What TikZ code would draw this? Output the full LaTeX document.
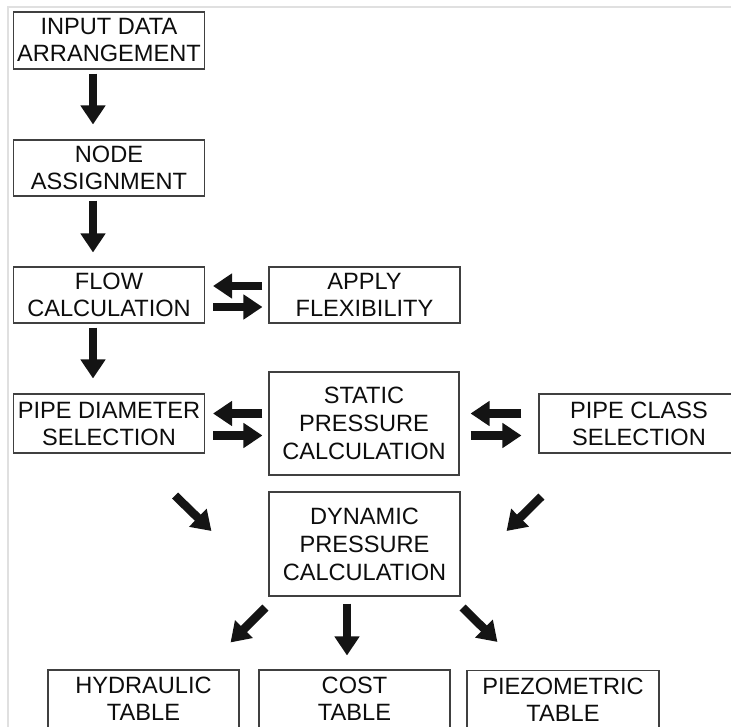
\documentclass[tikz,border=0pt]{standalone}
\usepackage{fontspec}
\setmainfont{Liberation Sans}
\usetikzlibrary{arrows.meta}
\begin{document}
\begin{tikzpicture}[x=1pt,y=-1pt,
    stage/.style={draw=black!75,line width=1.1pt,text=black!95,align=center,
        minimum width=191pt,minimum height=57pt,inner sep=0pt,
        font=\fontsize{23.6}{27}\selectfont},
    fat/.style={draw=black!92,line width=8.5pt,-{Triangle[length=19pt,width=24pt]}}]
    \useasboundingbox (0,0) rectangle (731,727);
    \draw[black!12,line width=1.5pt] (8,727) -- (8,7) -- (731,7);
    % left column
    \node[stage] (input) at (109,40.5) {INPUT DATA\\ARRANGEMENT};
    \node[stage,minimum height=56pt] (assign) at (109,168) {NODE\\ASSIGNMENT};
    \node[stage,minimum height=56pt] (flow) at (109,295) {FLOW\\CALCULATION};
    \node[stage,minimum height=59pt] (pdia) at (109,423.5) {PIPE DIAMETER\\SELECTION};
    % middle and right
    \node[stage,minimum height=56pt] (apply) at (364.5,295) {APPLY\\FLEXIBILITY};
    \node[stage,minimum width=190pt,minimum height=103pt,font=\fontsize{23.6}{28}\selectfont] (static) at (364,423.5) {STATIC\\PRESSURE\\CALCULATION};
    \node[stage,minimum width=200pt,minimum height=59pt] (pclass) at (639,423.5) {PIPE CLASS\\SELECTION};
    \node[stage,minimum height=104pt,font=\fontsize{23.6}{28}\selectfont] (dyn) at (364.5,544) {DYNAMIC\\PRESSURE\\CALCULATION};
    % tables
    \node[stage,minimum height=58pt] (hyd) at (143.5,699) {HYDRAULIC\\TABLE};
    \node[stage,minimum height=58pt] (cost) at (354.5,699) {COST\\TABLE};
    \node[stage,minimum width=192pt,minimum height=58pt] (piez) at (563,699.5) {PIEZOMETRIC\\TABLE};
    % arrows
    \draw[fat,shorten <=4pt,shorten >=15pt] ([xshift=-16pt]input.south) -- ([xshift=-16pt]assign.north);
    \draw[fat,shorten <=4pt,shorten >=14pt] ([xshift=-16pt]assign.south) -- ([xshift=-16pt]flow.north);
    \draw[fat,shorten <=4pt,shorten >=15pt] ([xshift=-16pt]flow.south) -- ([xshift=-16pt]pdia.north);
    \draw[fat,shorten <=6pt,shorten >=8pt] ([yshift=9pt]apply.west) -- ([yshift=9pt]flow.east);
    \draw[fat,shorten <=8pt,shorten >=6pt] ([yshift=-12pt]flow.east) -- ([yshift=-12pt]apply.west);
    \draw[fat,shorten <=6pt,shorten >=8pt] ([yshift=10pt]static.west) -- ([yshift=10pt]pdia.east);
    \draw[fat,shorten <=8pt,shorten >=6pt] ([yshift=-12pt]pdia.east) -- ([yshift=-12pt]static.west);
    \draw[fat,shorten <=17pt,shorten >=11pt] ([yshift=10pt]pclass.west) -- ([yshift=10pt]static.east);
    \draw[fat,shorten <=11pt,shorten >=17pt] ([yshift=-12pt]static.east) -- ([yshift=-12pt]pclass.west);
    \draw[fat] ([shift={(-30,42)}]pdia.south east) -- ([shift={(-57,-13)}]dyn.west);
    \draw[fat] ([shift={(3,43)}]pclass.south west) -- ([shift={(46,-13)}]dyn.east);
    \draw[fat] ([shift={(-3,11)}]dyn.south west) -- ([shift={(-9,-27)}]hyd.north east);
    \draw[fat] ([shift={(-17.5,7)}]dyn.south) -- ([shift={(-7.5,-14)}]cost.north);
    \draw[fat] ([shift={(2,11)}]dyn.south east) -- ([shift={(31,-28)}]piez.north west);
\end{tikzpicture}
\end{document}
